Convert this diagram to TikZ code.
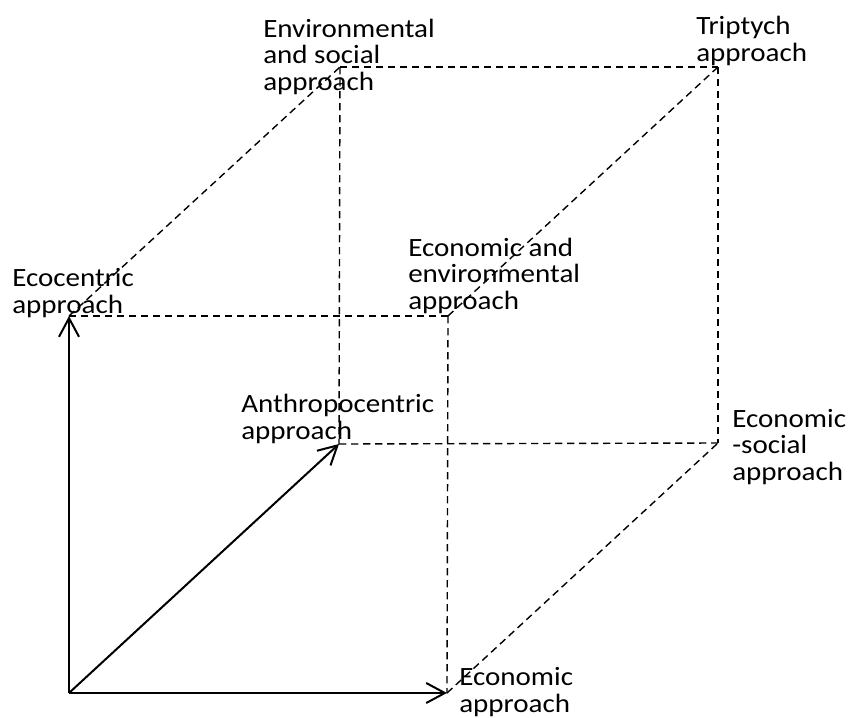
\documentclass[tikz,border=0pt]{standalone}
\usepackage{fontspec}
\setmainfont{Carlito}[FakeStretch=1.1]
\usetikzlibrary{arrows.meta}
\begin{document}
\begin{tikzpicture}[x=0.75pt,y=-0.75pt,
  axis/.style={line width=1.5pt,-{Straight Barb[length=14pt,width=15pt,line width=1.5pt]}},
  guide/.style={line width=1.05pt,dash pattern=on 5.5pt off 3.5pt},
  lbl/.style={anchor=base west,inner sep=0pt,align=left,font=\fontsize{19.8pt}{19.8pt}\selectfont}]
\path[use as bounding box] (0,0) rectangle (851,718);
% corners
\coordinate (O)  at (69,693);
\coordinate (Ec) at (447,693);
\coordinate (Eco) at (69,316);
\coordinate (An) at (339,444);
\coordinate (EE) at (448,316);
\coordinate (ES) at (340,67);
\coordinate (Tr) at (718,67);
\coordinate (EcS) at (718,443);
% dashed edges
\draw[guide] (Eco) -- (EE);
\draw[guide] (EE) -- (Ec);
\draw[guide] (Eco) -- (ES);
\draw[guide] (ES) -- (An);
\draw[guide] (ES) -- (Tr);
\draw[guide] (EE) -- (Tr);
\draw[guide] (Tr) -- (EcS);
\draw[guide] (An) -- (EcS);
\draw[guide] (Ec) -- (EcS);
% axes
\draw[axis] (O) -- (Ec);
\draw[axis] (O) -- (Eco);
\draw[axis] (O) -- (An);
% labels (base = baseline of last line)
\node[lbl] (lEco) at (12,313) {Ecocentric\\approach};
\node[lbl] (lAn) at (241,439) {Anthropocentric\\approach};
\node[lbl] (lES) at (263,90) {Environmental\\and social\\approach};
\node[lbl] (lTr) at (696,61) {Triptych\\approach};
\node[lbl] (lEE) at (408,309) {Economic and\\environmental\\approach};
\node[lbl] (lEcS) at (732,480) {Economic\\-social\\approach};
\node[lbl] (lEc) at (459,712) {Economic\\approach};
\end{tikzpicture}
\end{document}
